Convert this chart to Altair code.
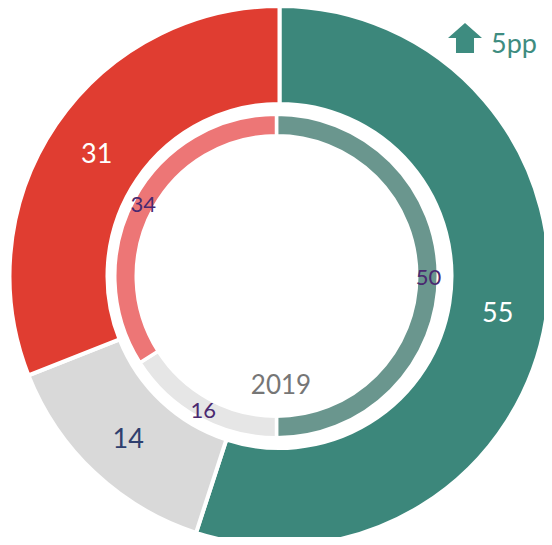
import altair as alt
import pandas as pd

# ---- data ----
segments = ["Favourable", "Neutral", "Unfavourable"]
share_outer = [55, 14, 31]      # current year (outer ring)
share_inner = [50, 16, 34]      # 2019 (inner ring)
order_idx = [1, 2, 3]
center_label = ["2019"]
change_label = ["5pp"]

# ---- styles ----
outer_colors = ["#3C877B", "#D9D9D9", "#E03D31"]
inner_colors = ["#6A968E", "#E6E6E6", "#ED7676"]
teal_text = "#3E8C80"
navy = "#2F3F6E"
purple = "#4A2970"
grey_text = "#767676"
FONT = "Lato"

W, H = 536, 529
ocx, ocy = 271.5, 268
icx, icy = 268.5, 268

outer_df = pd.DataFrame({"seg": segments, "value": share_outer, "idx": order_idx,
                         "key": ["o_" + s for s in segments]})
inner_df = pd.DataFrame({"seg": segments, "value": share_inner, "idx": order_idx,
                         "key": ["i_" + s for s in segments]})

color_scale = alt.Scale(domain=list(outer_df["key"]) + list(inner_df["key"]),
                        range=outer_colors + inner_colors)


def ring(df, cx, cy, r, r2, sw):
    return alt.Chart(df).mark_arc(radius=r, radius2=r2, stroke="white", strokeWidth=sw).encode(
        theta=alt.Theta("value:Q", stack=True),
        order=alt.Order("idx:Q"),
        color=alt.Color("key:N", scale=color_scale, legend=None),
        x=alt.value(cx), y=alt.value(cy),
    )


def labels(df, cx, cy, r, size, color, dy):
    return alt.Chart(df).mark_text(radius=r, fontSize=size, font=FONT, dy=dy,
                                   align="center", baseline="middle").encode(
        theta=alt.Theta("value:Q", stack=True),
        order=alt.Order("idx:Q"),
        text=alt.Text("value:Q"),
        color=color,
        x=alt.value(cx), y=alt.value(cy),
    )


outer_ring = ring(outer_df, ocx, ocy, 270, 172, 4)
inner_ring = ring(inner_df, icx, icy, 161.75, 140.25, 3.5)

outer_text = labels(outer_df, ocx, ocy, 221, 27,
                    alt.when(alt.datum.seg == "Neutral").then(alt.value(navy)).otherwise(alt.value("white")), 3)
inner_text = labels(inner_df, icx, icy, 152, 22, alt.value(purple), 2)

year_text = alt.Chart(pd.DataFrame({"t": center_label})).mark_text(
    fontSize=26, font=FONT, color=grey_text, align="center", baseline="middle"
).encode(text="t:N", x=alt.value(273), y=alt.value(378))

arrow_path = "M0,-0.88 L1,0 L0.53,0 L0.53,0.88 L-0.53,0.88 L-0.53,0 L-1,0 Z"
arrow = alt.Chart(pd.DataFrame({"t": change_label})).mark_point(
    shape=arrow_path, size=1156, filled=True, color=teal_text, opacity=1, strokeWidth=0
).encode(x=alt.value(457), y=alt.value(30))

change_text = alt.Chart(pd.DataFrame({"t": change_label})).mark_text(
    fontSize=27, font=FONT, color=teal_text, align="left", baseline="alphabetic"
).encode(text="t:N", x=alt.value(483), y=alt.value(44.5))

chart = alt.layer(outer_ring, inner_ring, outer_text, inner_text, year_text, arrow, change_text).properties(
    width=W, height=H, autosize=alt.AutoSizeParams(type="none"), padding=0
).configure_view(stroke=None)

chart.save("out.html", embed_options={"renderer": "svg", "actions": False})
